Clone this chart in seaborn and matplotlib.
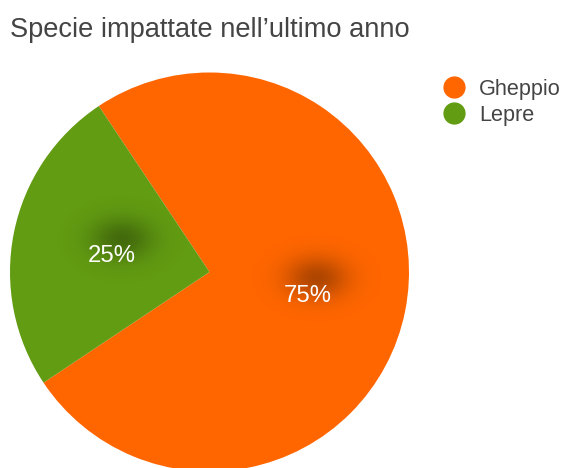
import numpy as np
import matplotlib
matplotlib.use("Agg")
import matplotlib.pyplot as plt
from matplotlib.lines import Line2D
import seaborn as sns

title = "Specie impattate nell\u2019ultimo anno"
categories = ["Gheppio", "Lepre"]
values = [75, 25]
colors = ["#ff6600", "#629c12"]

sns.set_theme(style="white")
plt.rcParams['font.family'] = ['Liberation Sans', 'DejaVu Sans']

W, H = 564, 468
fig = plt.figure(figsize=(W / 100, H / 100), dpi=100)
fig.patch.set_facecolor("white")

cx, cy, R = 209.5, 272, 199.5
ax = fig.add_axes([(cx - R) / W, (H - cy - R) / H, 2 * R / W, 2 * R / H])

wedges, texts, autotexts = ax.pie(
    values, colors=colors, startangle=123.7, counterclock=False,
    radius=1, center=(0, 0), autopct="%d%%", pctdistance=0.5,
    wedgeprops=dict(linewidth=0),
    textprops=dict(color="white", fontsize=17.2), frame=True)
ax.set_xlim(-1, 1)
ax.set_ylim(-1, 1)
ax.set_aspect("equal")
ax.axis("off")

# soft shadow glows behind the percentage labels
sx, sy = 0.11, 0.075
gx = np.linspace(-3, 3, 121)
GX, GY = np.meshgrid(gx, gx)
alpha = 0.32 * np.exp(-(GX ** 2 + GY ** 2) / 2)
img = np.zeros((121, 121, 4))
img[..., 3] = alpha
for t in autotexts:
    x, y = t.get_position()
    y -= 0.02
    t.set_position((x, y))
    ox, oy = x + 0.05, y + 0.085
    ax.imshow(img, extent=(ox - 3 * sx, ox + 3 * sx, oy - 3 * sy, oy + 3 * sy),
              zorder=2, interpolation="bilinear")
    t.set_zorder(3)
ax.set_xlim(-1, 1)
ax.set_ylim(-1, 1)

fig.text(10 / W, 1 - 30 / H, title, fontsize=19.6, color="#444444",
         ha="left", va="center")

handles = [Line2D([0], [0], marker="o", linestyle="", markersize=15,
                  markerfacecolor=c, markeredgecolor=c) for c in colors]
fig.legend(handles, categories, loc="upper left",
           bbox_to_anchor=(443 / W, 1 - 79 / H), frameon=False,
           fontsize=15.6, labelcolor="#444444", handlelength=1.0,
           handletextpad=0.65, labelspacing=0.22, borderpad=0, borderaxespad=0)

fig.savefig("out.png", dpi=100)
